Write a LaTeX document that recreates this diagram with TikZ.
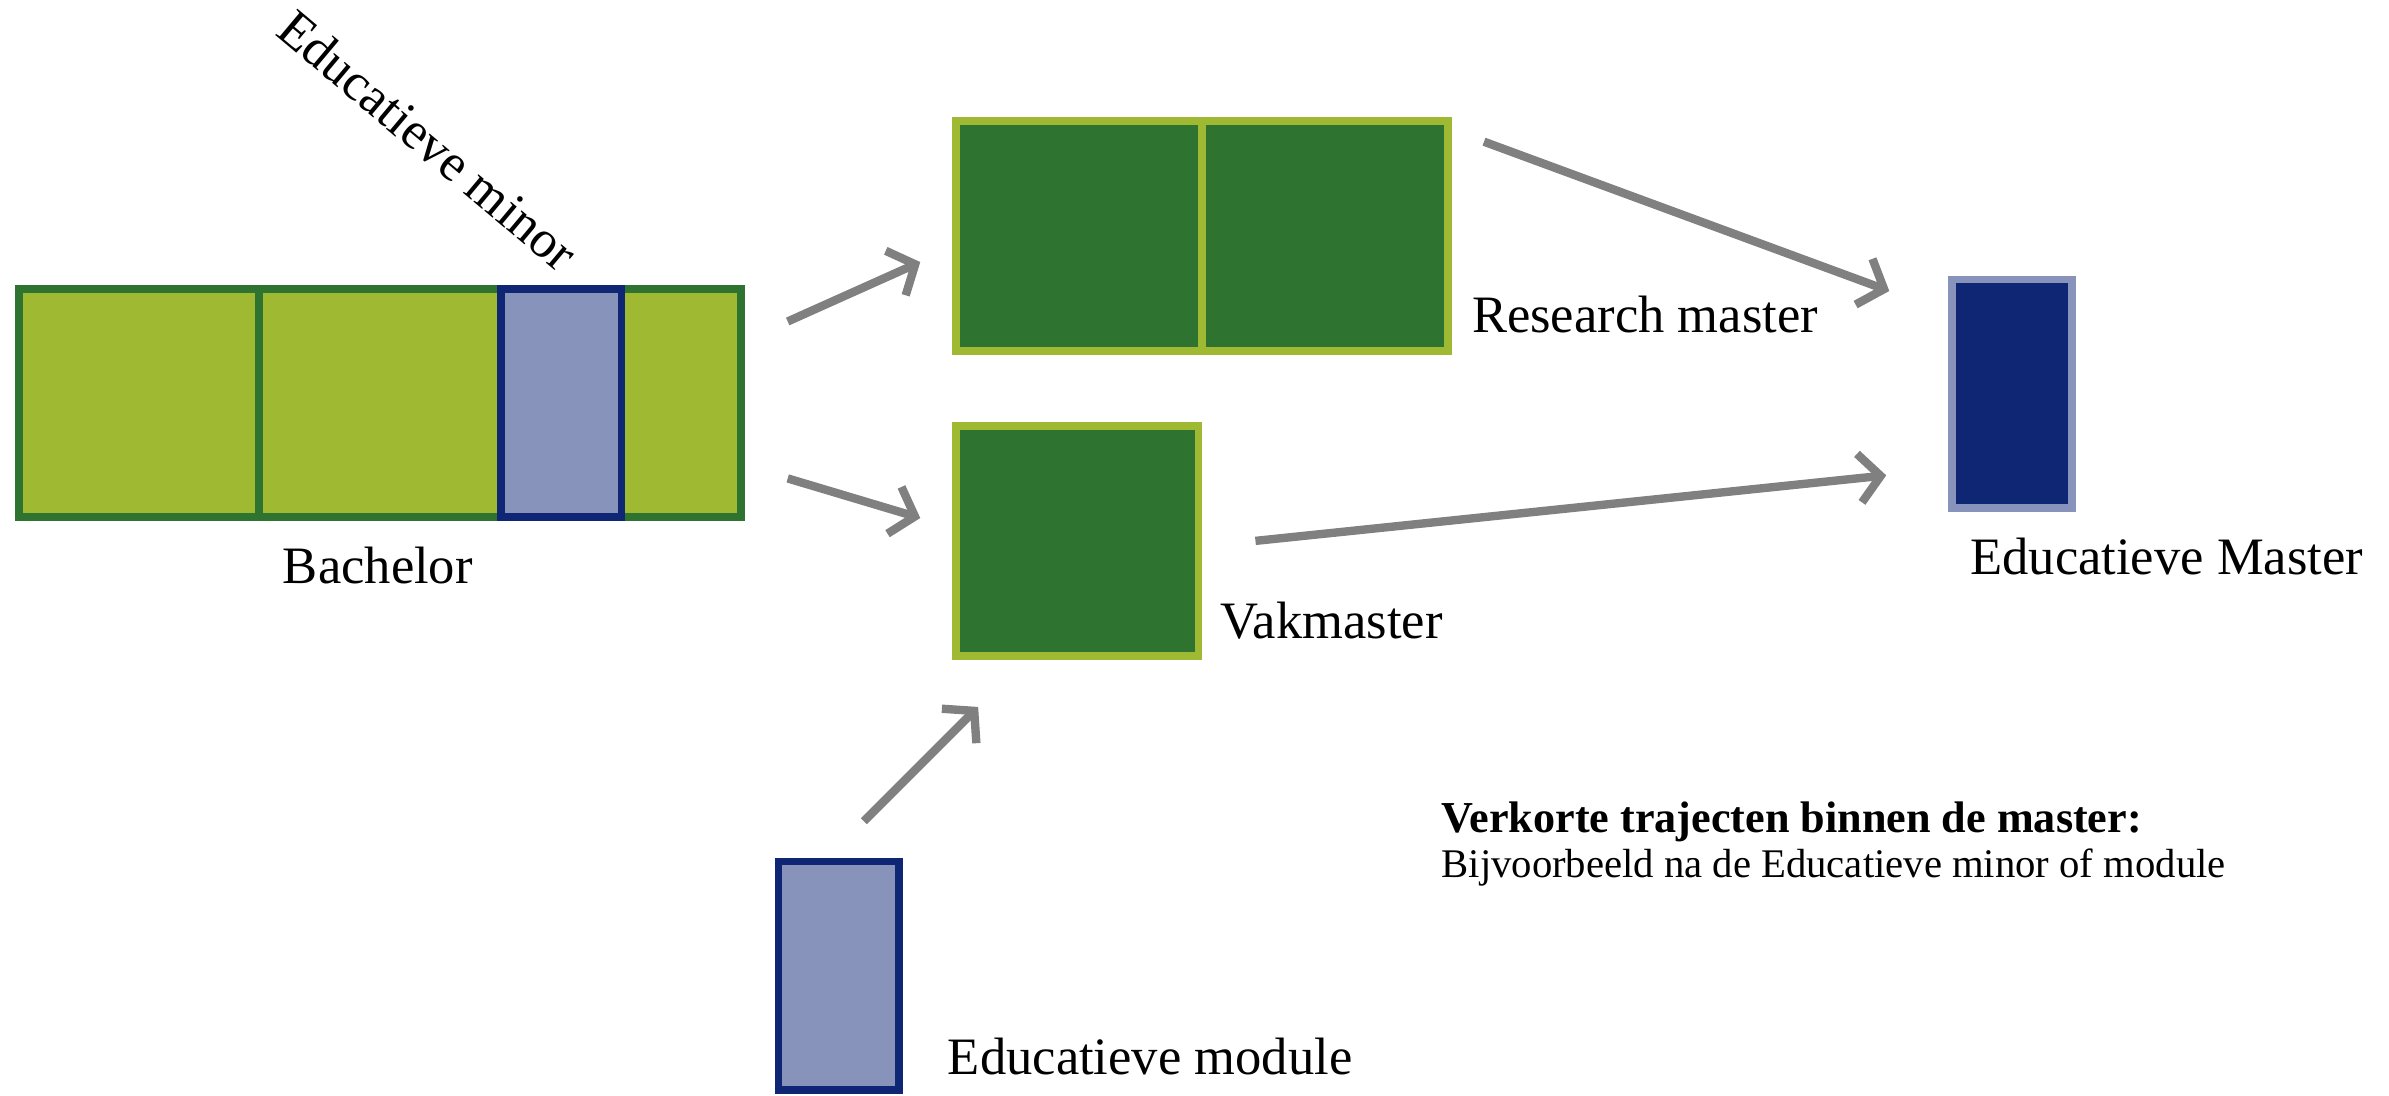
\documentclass[tikz,border=0pt]{standalone}
\usepackage{fontspec}
\setmainfont{Liberation Serif}
\usetikzlibrary{arrows.meta}
\definecolor{lgreen}{RGB}{159,186,50}
\definecolor{dgreen}{RGB}{46,115,48}
\definecolor{navy}{RGB}{15,38,116}
\definecolor{lav}{RGB}{135,147,187}
\definecolor{arrgray}{RGB}{128,128,128}
\begin{document}
\begin{tikzpicture}[x=1pt,y=-1pt,
  box/.style={rectangle,inner sep=0pt,line width=5pt},
  bachbox/.style={box,draw=dgreen,fill=lgreen},
  mastbox/.style={box,draw=lgreen,fill=dgreen},
  minorbox/.style={box,draw=navy,fill=lav},
  edubox/.style={box,draw=lav,fill=navy},
  lbl/.style={inner sep=0pt,font=\fontsize{34.5}{40}\selectfont},
  arr/.style={draw=arrgray,line width=5.5pt,-{Straight Barb[length=14pt,width=32pt]}}]
\useasboundingbox (0,0) rectangle (1568,719);
% Bachelor
\node[bachbox,minimum width=474pt,minimum height=150pt] (bach) at (249.5,264.5) {};
\draw[dgreen,line width=5pt] (bach.north west -| 170,0) coordinate (bdt) -- (bach.south west -| 170,0) coordinate (bdb);
\node[minorbox,minimum width=79pt,minimum height=150pt] (minor) at (368.5,264.5) {};
\node[lbl,anchor=base] (bachl) at (248,383) {Bachelor};
\node[lbl,rotate=-40] (minorl) at (281,92) {Educatieve minor};
% Research master
\node[mastbox,minimum width=323pt,minimum height=151pt] (res) at (789,155) {};
\draw[lgreen,line width=5pt] (res.north) -- (res.south);
\node[lbl,anchor=base west] (resl) at (966,218) {Research master};
% Vakmaster
\node[mastbox,minimum width=159pt,minimum height=151pt] (vak) at (707,355) {};
\node[lbl,anchor=base west] (vakl) at (801,419) {Vakmaster};
% Educatieve master
\node[edubox,minimum width=79pt,minimum height=150pt] (edu) at (1320.5,258.5) {};
\node[lbl,anchor=base west] (edul) at (1293,377) {Educatieve Master};
% Module
\node[minorbox,minimum width=79pt,minimum height=150pt] (mod) at (550.5,640.5) {};
\node[lbl,anchor=base west] (modl) at (622,705) {Educatieve module};
% Note
\node[inner sep=0pt,anchor=base west,font=\fontsize{29}{34}\selectfont\bfseries] (note1) at (946,546.5) {Verkorte trajecten binnen de master:};
\node[inner sep=0pt,anchor=base west,font=\fontsize{26.7}{32}\selectfont] (note2) at (946,576) {Bijvoorbeeld na de Educatieve minor of module};
% Arrow endpoints
\coordinate (a1s) at (517,211); \coordinate (a1e) at (604,172);
\coordinate (a2s) at (517,314); \coordinate (a2e) at (604,340);
\coordinate (a3s) at (974,93);  \coordinate (a3e) at (1240,191);
\coordinate (a4s) at (824,355); \coordinate (a4e) at (1238,312);
\coordinate (a5s) at (567,539); \coordinate (a5e) at (642,464);
\draw[arr] (a1s) -- (a1e);
\draw[arr] (a2s) -- (a2e);
\draw[arr] (a3s) -- (a3e);
\draw[arr] (a4s) -- (a4e);
\draw[arr] (a5s) -- (a5e);
\end{tikzpicture}
\end{document}
